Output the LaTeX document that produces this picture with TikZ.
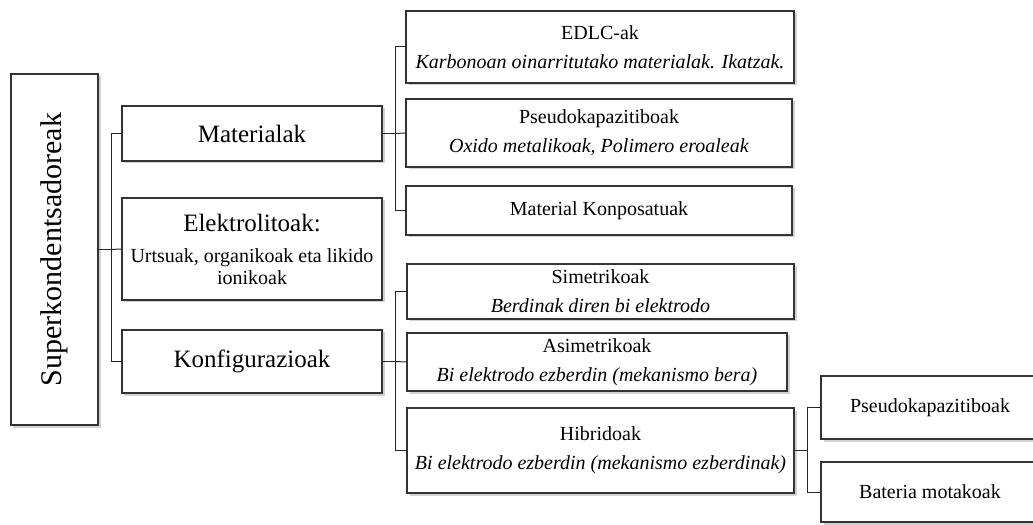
\documentclass[tikz,border=0pt]{standalone}
\usepackage{fontspec}
\setmainfont{Liberation Serif}
\usetikzlibrary{shadows}
\begin{document}
\begin{tikzpicture}[x=1bp,y=-1bp,
  box/.style={draw=black!80, line width=1.3bp, fill=white, inner sep=0pt, align=center,
    drop shadow={shadow xshift=2.5bp, shadow yshift=-2.5bp, fill=black!35}},
  huge/.style={font=\fontsize{30bp}{36bp}\selectfont},
  big/.style={font=\fontsize{25bp}{30bp}\selectfont},
  small/.style={font=\fontsize{20bp}{29bp}\selectfont},
  conn/.style={draw=black!85, line width=1bp}]
\clip (0,0) rectangle (1033,525);
\fill[white] (0,0) rectangle (1033,525);

% level 0
\node[box, huge, minimum width=87bp, minimum height=351bp] (super) at (54.5,249.5) {\rotatebox{90}{Superkondentsadoreak}};

% level 1
\node[box, big, minimum width=260bp, minimum height=55bp] (mat) at (252,133.5) {Materialak};
\node[box, font=\fontsize{20bp}{22bp}\selectfont, minimum width=260bp, minimum height=102bp] (elek) at (252,249)
  {{\fontsize{25bp}{25bp}\selectfont Elektrolitoak:}\\[9bp] Urtsuak, organikoak eta likido\\ ionikoak};
\node[box, big, minimum width=260bp, minimum height=63bp] (konf) at (252,361.5) {Konfigurazioak};

% level 2 (materials)
\node[box, small, minimum width=388bp, minimum height=72bp] (edlc) at (600,47)
  {EDLC-ak\\ \textit{Karbonoan oinarritutako materialak. Ikatzak.}};
\node[box, small, minimum width=386bp, minimum height=68bp] (pseudo) at (599,133)
  {Pseudokapazitiboak\\ \textit{Oxido metalikoak, Polimero eroaleak}};
\node[box, small, minimum width=386bp, minimum height=49bp] (mkonp) at (599,210.5)
  {Material Konposatuak};

% level 2 (configurations)
\node[box, small, minimum width=387bp, minimum height=55bp] (sim) at (600.5,291.5)
  {Simetrikoak\\ \textit{Berdinak diren bi elektrodo}};
\node[box, small, minimum width=380bp, minimum height=58bp] (asim) at (597,362)
  {Asimetrikoak\\ \textit{Bi elektrodo ezberdin (mekanismo bera)}};
\node[box, small, minimum width=387bp, minimum height=85bp] (hib) at (600.5,450.5)
  {Hibridoak\\ \textit{Bi elektrodo ezberdin (mekanismo ezberdinak)}};

% level 3
\node[box, small, minimum width=218bp, minimum height=63bp] (rpseudo) at (930,407.5) {Pseudokapazitiboak};
\node[box, small, minimum width=218bp, minimum height=60bp] (bat) at (930,492) {Bateria motakoak};

% connectors
\coordinate (s1) at (111,249.5);
\draw[conn] (super.east) -- (s1);
\draw[conn] (mat.west) -| (s1);
\draw[conn] (elek.west) -- (s1);
\draw[conn] (konf.west) -| (s1);

\coordinate (m1) at (395,133.5);
\draw[conn] (mat.east) -- (m1);
\draw[conn] (edlc.west) -| (m1);
\draw[conn] (pseudo.west) -- (m1);
\draw[conn] (mkonp.west) -| (m1);

\coordinate (k1) at (395,361.5);
\draw[conn] (konf.east) -- (k1);
\draw[conn] (sim.west) -| (k1);
\draw[conn] (asim.west) -- (k1);
\draw[conn] (hib.west) -| (k1);

\coordinate (h1) at (807,450.5);
\draw[conn] (hib.east) -- (h1);
\draw[conn] (rpseudo.west) -| (h1);
\draw[conn] (bat.west) -| (h1);
\end{tikzpicture}
\end{document}
